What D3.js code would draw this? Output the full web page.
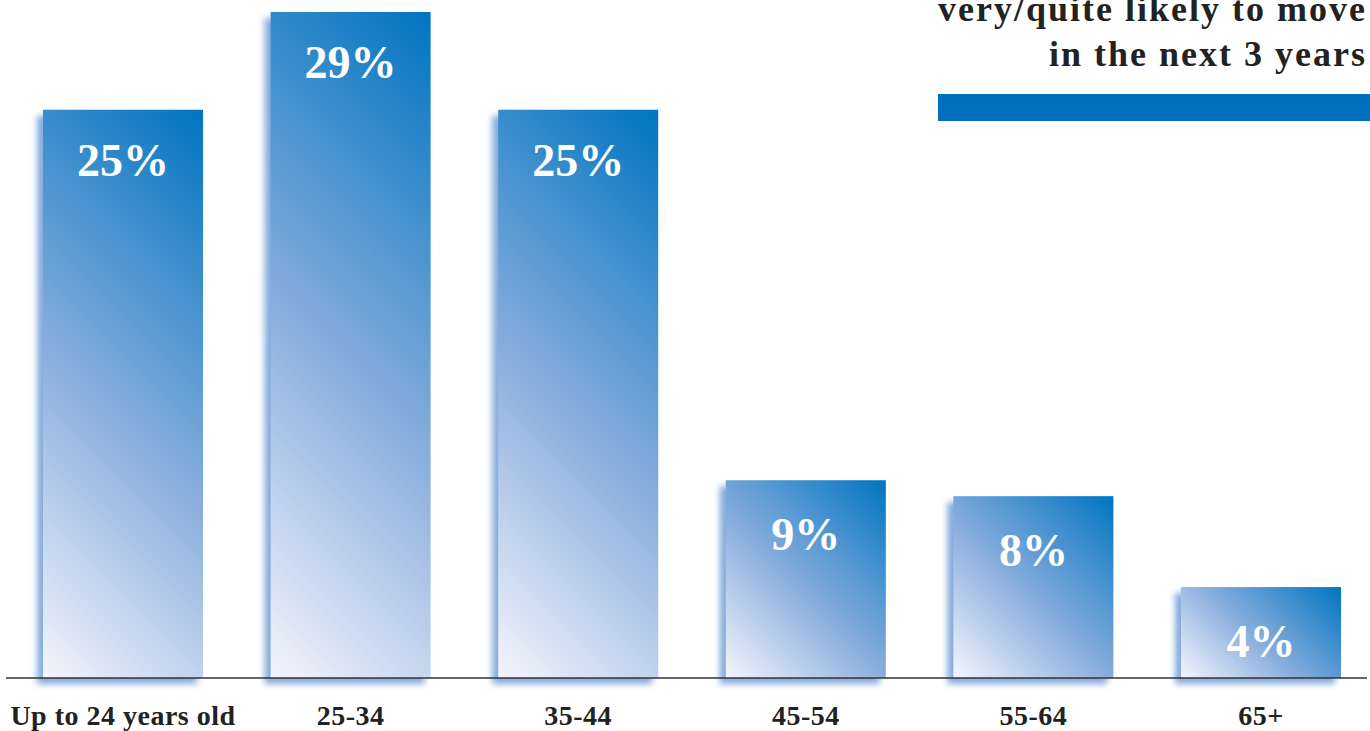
<!DOCTYPE html>
<html><head><meta charset="utf-8">
<script src="https://cdn.jsdelivr.net/npm/d3@7"></script>
<style>html,body{margin:0;padding:0;background:#fff;overflow:hidden}</style>
</head><body>
<svg id="c" width="1370" height="731"></svg>
<script>
const categories = ["Up to 24 years old","25-34","35-44","45-54","55-64","65+"];
const values = [25, 29.3, 25, 8.7, 8, 4];
const valueLabels = ["25%","29%","25%","9%","8%","4%"];
const legendLines = ["very/quite likely to move","in the next 3 years"];

const svg = d3.select("#c");
const baseY = 678;
const x = d3.scaleBand().domain(categories).range([0, 1384]).paddingInner(0.297).paddingOuter(0.189);
const y = d3.scaleLinear().domain([0, 29.3]).range([baseY, 12]);

const defs = svg.append("defs");
const blur = defs.append("filter").attr("id","sh").attr("x","-20%").attr("y","-20%").attr("width","140%").attr("height","140%");
blur.append("feGaussianBlur").attr("stdDeviation", 3);

const serif = "'Liberation Serif','Times New Roman',serif";

categories.forEach((c,i)=>{
  const x0 = x(c), w = x.bandwidth(), top = y(values[i]), h = baseY - top;
  const d = (w + h)/2;
  const g = defs.append("linearGradient").attr("id","g"+i).attr("gradientUnits","userSpaceOnUse")
    .attr("x1", x0).attr("y1", baseY).attr("x2", x0 + d).attr("y2", baseY - d);
  g.append("stop").attr("offset",0).attr("stop-color","#f4f5fc");
  g.append("stop").attr("offset",0.45).attr("stop-color","#8aaedd");
  g.append("stop").attr("offset",1).attr("stop-color","#0075c1");
});

// shadows
svg.append("g").selectAll("rect").data(categories).join("rect")
  .attr("x", d => x(d) - 6).attr("y", (d,i) => y(values[i]) + 6)
  .attr("width", x.bandwidth()).attr("height", (d,i) => baseY - y(values[i]))
  .attr("fill", "#6f9cd6").attr("opacity", 0.85).attr("filter","url(#sh)");

// bars
svg.append("g").selectAll("rect").data(categories).join("rect")
  .attr("x", d => x(d)).attr("y", (d,i) => y(values[i]))
  .attr("width", x.bandwidth()).attr("height", (d,i) => baseY - y(values[i]))
  .attr("fill", (d,i) => `url(#g${i})`);

// baseline
svg.append("line").attr("x1", 6).attr("x2", 1367).attr("y1", baseY).attr("y2", baseY)
  .attr("stroke", "#333").attr("stroke-width", 1.5);

// value labels
svg.append("g").selectAll("text").data(categories).join("text")
  .attr("x", d => x(d) + x.bandwidth()/2).attr("y", (d,i) => y(values[i]) + (values[i] > 10 ? 66 : 70))
  .attr("text-anchor","middle").attr("fill","#fff")
  .attr("font-family", serif).attr("font-weight","bold").attr("font-size", 46)
  .text((d,i) => valueLabels[i]);

// category labels
svg.append("g").selectAll("text").data(categories).join("text")
  .attr("x", d => x(d) + x.bandwidth()/2).attr("y", 725)
  .attr("text-anchor","middle").attr("fill","#222")
  .attr("font-family", serif).attr("font-weight","bold").attr("font-size", 28)
  .attr("letter-spacing", 0.5)
  .text(d => d);

// legend
svg.append("g").selectAll("text").data(legendLines).join("text")
  .attr("x", 1367).attr("y", (d,i) => 21 + i*45)
  .attr("text-anchor","end").attr("fill","#222")
  .attr("font-family", serif).attr("font-weight","bold").attr("font-size", 36)
  .attr("letter-spacing", 2)
  .text(d => d);
svg.append("rect").attr("x", 938).attr("y", 94).attr("width", 432).attr("height", 27).attr("fill", "#0171bf");
</script>
</body></html>
